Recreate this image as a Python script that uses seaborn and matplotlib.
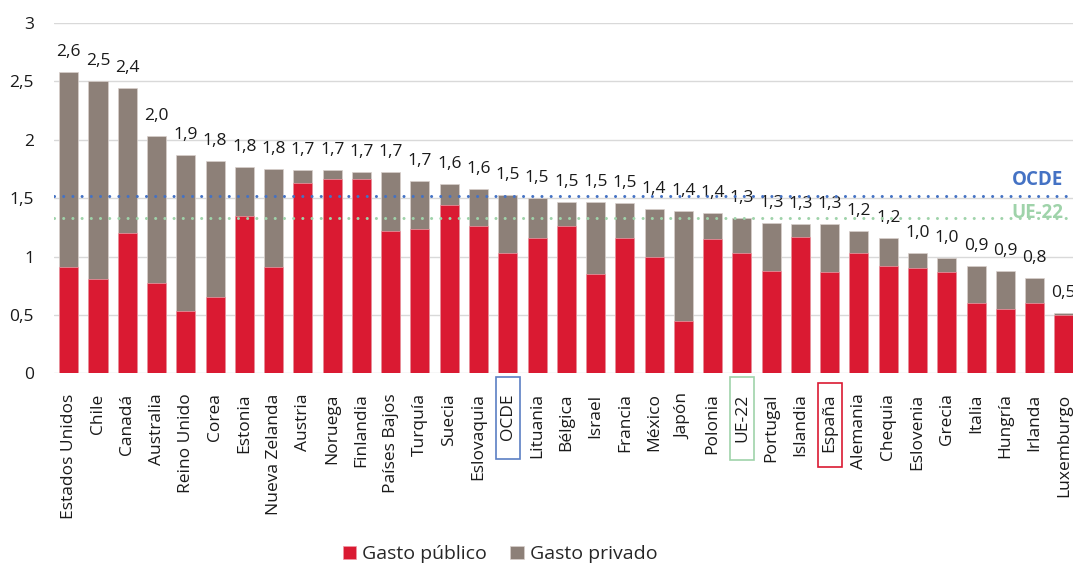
import numpy as np
import pandas as pd
import matplotlib
matplotlib.use("Agg")
import matplotlib.pyplot as plt
from matplotlib.patches import Rectangle
import seaborn as sns

# Gasto en I+D por país (% del PIB): componente público y privado
countries = [
    "Estados Unidos", "Chile", "Canadá", "Australia", "Reino Unido", "Corea",
    "Estonia", "Nueva Zelanda", "Austria", "Noruega", "Finlandia", "Países Bajos",
    "Turquía", "Suecia", "Eslovaquia", "OCDE", "Lituania", "Bélgica", "Israel",
    "Francia", "México", "Japón", "Polonia", "UE-22", "Portugal", "Islandia",
    "España", "Alemania", "Chequia", "Eslovenia", "Grecia", "Italia", "Hungría",
    "Irlanda", "Luxemburgo",
]
gasto_publico = [
    0.91, 0.81, 1.20, 0.77, 0.53, 0.65, 1.35, 0.91, 1.63, 1.66, 1.66, 1.22,
    1.24, 1.44, 1.26, 1.03, 1.16, 1.26, 0.85, 1.16, 1.00, 0.45, 1.15, 1.03,
    0.88, 1.17, 0.87, 1.03, 0.92, 0.90, 0.87, 0.60, 0.55, 0.60, 0.50,
]
gasto_privado = [
    1.67, 1.69, 1.24, 1.26, 1.34, 1.17, 0.42, 0.84, 0.11, 0.08, 0.06, 0.50,
    0.41, 0.18, 0.32, 0.50, 0.34, 0.21, 0.62, 0.30, 0.41, 0.94, 0.22, 0.30,
    0.41, 0.11, 0.41, 0.19, 0.24, 0.13, 0.12, 0.32, 0.33, 0.22, 0.02,
]
media_ocde = 1.52
media_ue22 = 1.33
y_ticks = [0, 0.5, 1, 1.5, 2, 2.5, 3]
y_tick_labels = ["0", "0,5", "1", "1,5", "2", "2,5", "3"]
highlighted = {"OCDE": "#5B7FC4", "UE-22": "#9FD3AA", "España": "#DA1A32"}

RED = "#DA1A32"
TAUPE = "#8D8078"
BLUE = "#4472C4"
GREEN = "#9FD3AA"

df = pd.DataFrame({
    "pais": countries,
    "publico": gasto_publico,
    "privado": gasto_privado,
})
df["total"] = df["publico"] + df["privado"]

sns.set_theme(style="white")
plt.rcParams["font.family"] = ["Open Sans", "DejaVu Sans"]

fig = plt.figure(figsize=(10.73, 5.65), dpi=100)
W, H = 1073.0, 565.0
ax_left, ax_right = 54.1, 1078.5
ax_top, ax_bottom = 23.0, 373.3
ax = fig.add_axes([ax_left / W, 1 - ax_bottom / H,
                   (ax_right - ax_left) / W, (ax_bottom - ax_top) / H])

# Stacked bars: total (private on top) drawn first, public part over it
sns.barplot(data=df, x="pais", y="total", color=TAUPE, width=0.65,
            saturation=1, ax=ax, zorder=2, edgecolor="#d9d0cc", linewidth=0.5)
sns.barplot(data=df, x="pais", y="publico", color=RED, width=0.65,
            saturation=1, ax=ax, zorder=3, edgecolor="#ef9aa5", linewidth=0.5)

ax.set_xlim(-0.5, len(countries) - 0.5)
ax.set_ylim(0, 3)
ax.set_yticks(y_ticks)
ax.set_yticklabels(y_tick_labels)
ax.yaxis.grid(True, color="#D9D9D9", linewidth=1.0, zorder=0)
ax.set_axisbelow(True)
for s in ax.spines.values():
    s.set_visible(False)
ax.set_xlabel("")
ax.set_ylabel("")
ax.tick_params(axis="y", length=0, pad=14.4, labelsize=12.5, colors="#1a1a1a")
ax.tick_params(axis="x", length=0, pad=14.5, labelsize=12.5, colors="#1a1a1a")
plt.setp(ax.get_xticklabels(), rotation=90, ha="center", va="top")

# Total value labels above each bar
for i, t in enumerate(df["total"]):
    val = np.floor(t * 10 + 0.5 + 1e-6) / 10
    ax.annotate(f"{val:.1f}".replace(".", ","), (i, t), xytext=(0, 11.5),
                textcoords="offset points", ha="center", va="baseline",
                fontsize=12.5, color="#1a1a1a", zorder=4)

# Reference averages
dot = (0, (0.01, 3.0))
ax.axhline(media_ocde, color=BLUE, linewidth=2.2, linestyle=dot,
           dash_capstyle="round", zorder=6)
ax.axhline(media_ue22, color=GREEN, linewidth=2.2, linestyle=dot,
           dash_capstyle="round", zorder=6)
xr = (1063 - ax_left) / (ax_right - ax_left)
ax.text(xr, 1.612, "OCDE", transform=ax.get_yaxis_transform(), ha="right",
        va="baseline", fontsize=13.5, fontweight="bold", color=BLUE, zorder=5)
ax.text(xr, media_ue22, "UE-22", transform=ax.get_yaxis_transform(), ha="right",
        va="baseline", fontsize=13.5, fontweight="bold", color=GREEN, zorder=5)

# Frames around the aggregate and highlighted tick labels
px_h = ax_bottom - ax_top
frames = {"OCDE": (377, 459), "UE-22": (377, 460), "España": (383, 467)}
for name, color in highlighted.items():
    i = countries.index(name)
    y0, y1 = frames[name]
    a0 = (ax_bottom - y1) / px_h
    a1 = (ax_bottom - y0) / px_h
    ax.add_patch(Rectangle((i - 0.41, a0), 0.82, a1 - a0,
                           transform=ax.get_xaxis_transform(), fill=False,
                           edgecolor=color, linewidth=1.2, clip_on=False))

handles = [ax.containers[1], ax.containers[0]]
fig.legend(handles, ["Gasto público", "Gasto privado"], loc="center",
           bbox_to_anchor=(500 / W, 0.019), ncol=2, frameon=False,
           fontsize=14, handlelength=0.7, handleheight=0.7,
           handletextpad=0.3, columnspacing=1.2)

fig.savefig("out.png", dpi=100)
